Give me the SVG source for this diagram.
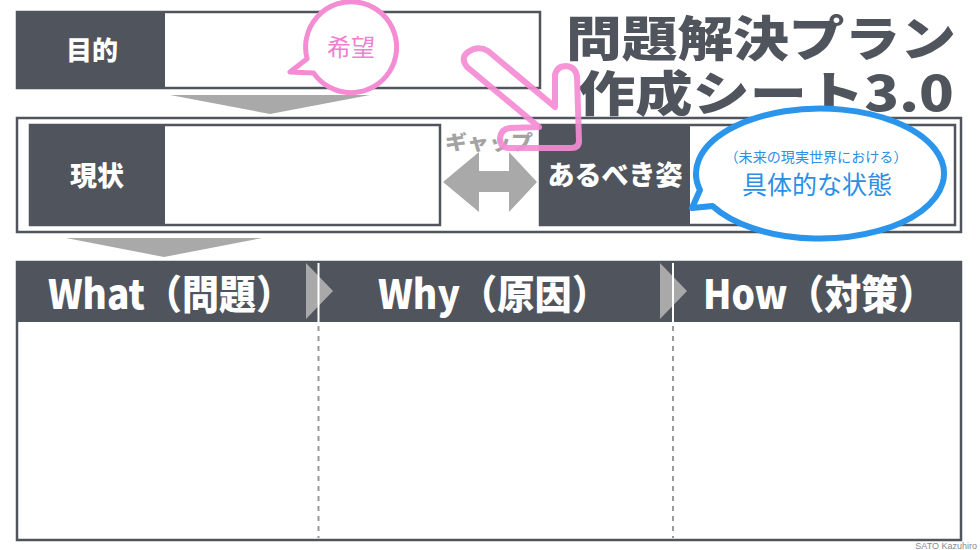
<svg xmlns="http://www.w3.org/2000/svg" width="980" height="550" viewBox="0 0 980 550">
<style>
.frame{fill:#ffffff;stroke:#50545c;stroke-width:2.5}
.dark{fill:#50545c}
.lbl{font-family:"Noto Sans CJK JP","Noto Sans",sans-serif;font-weight:900;fill:#ffffff;text-anchor:middle}
.hdr{font-family:"Noto Sans CJK JP","Noto Sans",sans-serif;font-weight:900;fill:#ffffff;font-size:40px}
.title{font-family:"Noto Sans CJK JP","Noto Sans",sans-serif;font-weight:900;fill:#50545c;font-size:48px;stroke:#ffffff;stroke-width:2;paint-order:stroke}
.gray{fill:#a9a9a9}
.dash{stroke:#9a9a9a;stroke-width:2;stroke-dasharray:5 5;fill:none}
.pink{fill:#ffffff;stroke:#f48cd4;stroke-width:5;stroke-linejoin:round}
.blue{fill:#ffffff;stroke:#2b95ec;stroke-width:6;stroke-linejoin:round}
</style>
<rect x="0" y="0" width="980" height="550" fill="#ffffff"/>

<g id="title">
<text class="title"><tspan x="566" y="56" textLength="390" lengthAdjust="spacingAndGlyphs">問題解決プラン</tspan><tspan x="578" y="111" textLength="376" lengthAdjust="spacingAndGlyphs">作成シート3.0</tspan></text>
</g>

<g id="purpose">
<rect class="frame" x="17" y="12" width="523" height="76"/>
<rect class="dark" x="17" y="12" width="148" height="76"/>
<text class="lbl" x="92" y="60" font-size="26">目的</text>
</g>

<g id="current-frame">
<rect class="frame" x="17" y="118" width="944" height="114" stroke-width="3"/>
</g>

<g id="current">
<rect class="frame" x="30" y="125" width="410" height="100" stroke-width="2"/>
<rect class="dark" x="30" y="125" width="135" height="100"/>
<text class="lbl" x="97" y="186" font-size="27">現状</text>
</g>

<g id="ideal">
<rect class="frame" x="540" y="125" width="415" height="100" stroke-width="2"/>
<rect class="dark" x="540" y="125" width="150" height="100"/>
<text class="lbl" x="615" y="185" font-size="27">あるべき姿</text>
</g>

<g id="gap">
<text x="445" y="150" font-family="Noto Sans CJK JP,Noto Sans,sans-serif" font-weight="900" font-size="20" fill="#a3a3a3" textLength="88" lengthAdjust="spacingAndGlyphs">ギャップ</text>
</g>

<g id="table">
<rect class="frame" x="17" y="262" width="944" height="278"/>
<rect class="dark" x="17" y="262" width="944" height="60"/>
<text class="hdr" x="48" y="309" textLength="245" lengthAdjust="spacingAndGlyphs">What（問題）</text>
<text class="hdr" x="378" y="309" textLength="231" lengthAdjust="spacingAndGlyphs">Why（原因）</text>
<text class="hdr" x="703" y="309" textLength="232" lengthAdjust="spacingAndGlyphs">How（対策）</text>
</g>

<g id="connectors">
<polygon class="gray" points="170,95 370,95 270,114"/>
<polygon class="gray" points="66,238 262,238 164,257"/>
<polygon class="gray" points="443,182 479,152 479,171 509,171 509,152 537,182 509,212 509,192 479,192 479,212"/>
<polygon class="gray" points="306,263 333,291 306,319"/>
<polygon class="gray" points="660,263 687,291 660,319"/>
<line x1="318.5" y1="263" x2="318.5" y2="322" stroke="#ffffff" stroke-width="2"/>
<line x1="673" y1="263" x2="673" y2="322" stroke="#ffffff" stroke-width="2"/>
<line class="dash" x1="318.5" y1="326" x2="318.5" y2="538"/>
<line class="dash" x1="673" y1="326" x2="673" y2="538"/>
<path d="M488,51 L555,107 L555,75 Q557,66 566,66 Q576,67 577,77 L579,141 Q579,148 571,148 L508,148 Q500,147 500,138 Q501,129 510,128 L539,127 L467,67 Q460,58 468,52 Q478,45 488,51 Z" fill="none" stroke="#f48cd4" stroke-width="6" stroke-linejoin="round" opacity="0.92"/>
</g>

<g id="hope-bubble">
<path class="pink" d="M313.7,73.1 A45.5 45.5 0 1 0 307.1,58.8 L290,72 Z"/>
<text x="351" y="56" font-family="Noto Sans CJK JP,Noto Sans,sans-serif" font-size="24" fill="#f07fcf" text-anchor="middle">希望</text>
</g>

<g id="state-bubble">
<path class="blue" d="M712.5,206 A124 65 0 1 0 700,190 L692,208 Z"/>
<text x="816" y="162" font-family="Noto Sans CJK JP,Noto Sans,sans-serif" font-size="14" fill="#2b8fe6" text-anchor="middle" textLength="183" lengthAdjust="spacingAndGlyphs">（未来の現実世界における）</text>
<text x="817" y="194" font-family="Noto Sans CJK JP,Noto Sans,sans-serif" font-size="25" fill="#2b8fe6" text-anchor="middle">具体的な状態</text>
</g>

<text x="977" y="549" font-family="Liberation Sans,Arial,sans-serif" font-size="9" fill="#8a8a8a" text-anchor="end">SATO Kazuhiro</text>
</svg>
